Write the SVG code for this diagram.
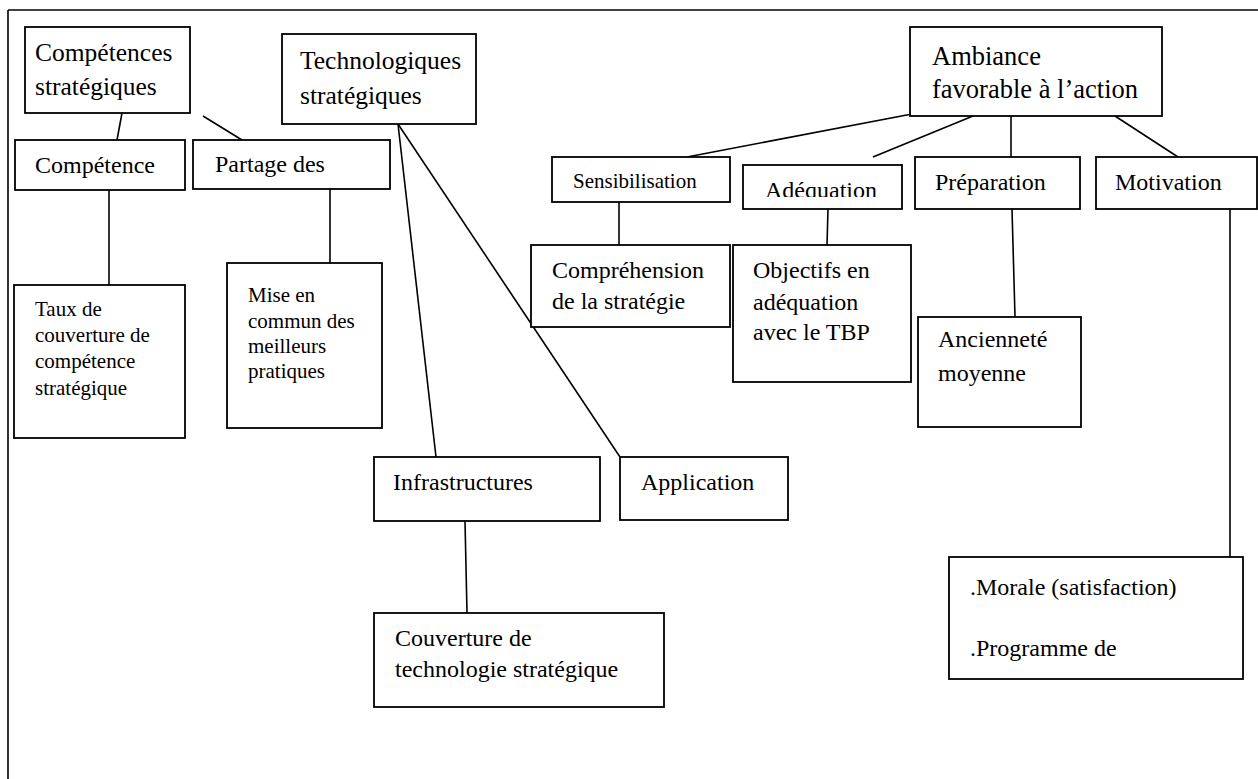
<svg xmlns="http://www.w3.org/2000/svg" width="1258" height="779" viewBox="0 0 1258 779">
<style>
rect.b{fill:#fff;stroke:#000;stroke-width:1.8}
text{font-family:"Liberation Serif","Times New Roman",serif;fill:#000}
.t26{font-size:26.5px}
.t25{font-size:25.5px}
.t24{font-size:24px}
.t21{font-size:21px}
#connectors line{stroke:#000;stroke-width:1.6}
</style>
<defs>
<clipPath id="clipAdeq"><rect x="744" y="166" width="157" height="31"/></clipPath>
</defs>
<rect x="0" y="0" width="1258" height="779" fill="#fff"/>
<g id="frame" stroke="#000" stroke-width="1.6" fill="none">
<line x1="8" y1="10" x2="1258" y2="10"/>
<line x1="8" y1="10" x2="8" y2="779"/>
</g>
<g id="connectors">
<line x1="122" y1="113" x2="117" y2="140"/>
<line x1="203" y1="116" x2="242" y2="140"/>
<line x1="109" y1="190" x2="109" y2="285"/>
<line x1="330" y1="189" x2="330" y2="263"/>
<line x1="398" y1="124" x2="436" y2="457"/>
<line x1="398" y1="124" x2="620" y2="457"/>
<line x1="912" y1="114" x2="687" y2="157"/>
<line x1="973" y1="116" x2="873" y2="157"/>
<line x1="1011" y1="116" x2="1011" y2="157"/>
<line x1="1115" y1="116" x2="1178" y2="157"/>
<line x1="619" y1="202" x2="619" y2="245"/>
<line x1="828" y1="209" x2="827" y2="245"/>
<line x1="1012" y1="209" x2="1015" y2="317"/>
<line x1="1230" y1="209" x2="1230" y2="557"/>
<line x1="465" y1="521" x2="467" y2="613"/>
</g>
<g id="competences-strategiques">
<rect class="b" x="25" y="27" width="165" height="86"/>
<text class="t25" x="35" y="61">Compétences</text>
<text class="t25" x="35" y="95">stratégiques</text>
</g>
<g id="technologiques-strategiques">
<rect class="b" x="282" y="34" width="194" height="90"/>
<text class="t25" x="300" y="69">Technologiques</text>
<text class="t25" x="300" y="104">stratégiques</text>
</g>
<g id="ambiance">
<rect class="b" x="910" y="27" width="252" height="89"/>
<text class="t26" x="932" y="65">Ambiance</text>
<text class="t26" x="932" y="98">favorable à l’action</text>
</g>
<g id="competence">
<rect class="b" x="15" y="140" width="170" height="50"/>
<text class="t24" x="35" y="173">Compétence</text>
</g>
<g id="partage">
<rect class="b" x="193" y="140" width="197" height="49"/>
<text class="t24" x="215" y="172">Partage des</text>
</g>
<g id="sensibilisation">
<rect class="b" x="552" y="157" width="178" height="45"/>
<text class="t21" x="573" y="188">Sensibilisation</text>
</g>
<g id="adequation">
<rect class="b" x="743" y="165" width="159" height="44"/>
<text class="t24" x="765" y="198" clip-path="url(#clipAdeq)">Adéquation</text>
</g>
<g id="preparation">
<rect class="b" x="915" y="157" width="165" height="52"/>
<text class="t24" x="935" y="190">Préparation</text>
</g>
<g id="motivation">
<rect class="b" x="1096" y="157" width="161" height="52"/>
<text class="t24" x="1115" y="190">Motivation</text>
</g>
<g id="taux">
<rect class="b" x="14" y="285" width="171" height="153"/>
<text class="t21" x="35" y="316">Taux de</text>
<text class="t21" x="35" y="342">couverture de</text>
<text class="t21" x="35" y="368">compétence</text>
<text class="t21" x="35" y="395">stratégique</text>
</g>
<g id="mise-en-commun">
<rect class="b" x="227" y="263" width="155" height="165"/>
<text class="t21" x="248" y="302">Mise en</text>
<text class="t21" x="248" y="328">commun des</text>
<text class="t21" x="248" y="353">meilleurs</text>
<text class="t21" x="248" y="378">pratiques</text>
</g>
<g id="comprehension">
<rect class="b" x="531" y="245" width="199" height="82"/>
<text class="t24" x="552" y="278">Compréhension</text>
<text class="t24" x="552" y="309">de la stratégie</text>
</g>
<g id="objectifs">
<rect class="b" x="733" y="245" width="178" height="137"/>
<text class="t24" x="753" y="278">Objectifs en</text>
<text class="t24" x="753" y="310">adéquation</text>
<text class="t24" x="753" y="340">avec le TBP</text>
</g>
<g id="anciennete">
<rect class="b" x="918" y="317" width="163" height="110"/>
<text class="t24" x="938" y="347">Ancienneté</text>
<text class="t24" x="938" y="381">moyenne</text>
</g>
<g id="infrastructures">
<rect class="b" x="374" y="457" width="226" height="64"/>
<text class="t24" x="393" y="490">Infrastructures</text>
</g>
<g id="application">
<rect class="b" x="620" y="457" width="168" height="63"/>
<text class="t24" x="641" y="490">Application</text>
</g>
<g id="couverture">
<rect class="b" x="374" y="613" width="290" height="94"/>
<text class="t24" x="395" y="646">Couverture de</text>
<text class="t24" x="395" y="677">technologie stratégique</text>
</g>
<g id="morale">
<rect class="b" x="949" y="557" width="294" height="122"/>
<text class="t24" x="970" y="595">.Morale (satisfaction)</text>
<text class="t24" x="970" y="656">.Programme de</text>
</g>
</svg>
